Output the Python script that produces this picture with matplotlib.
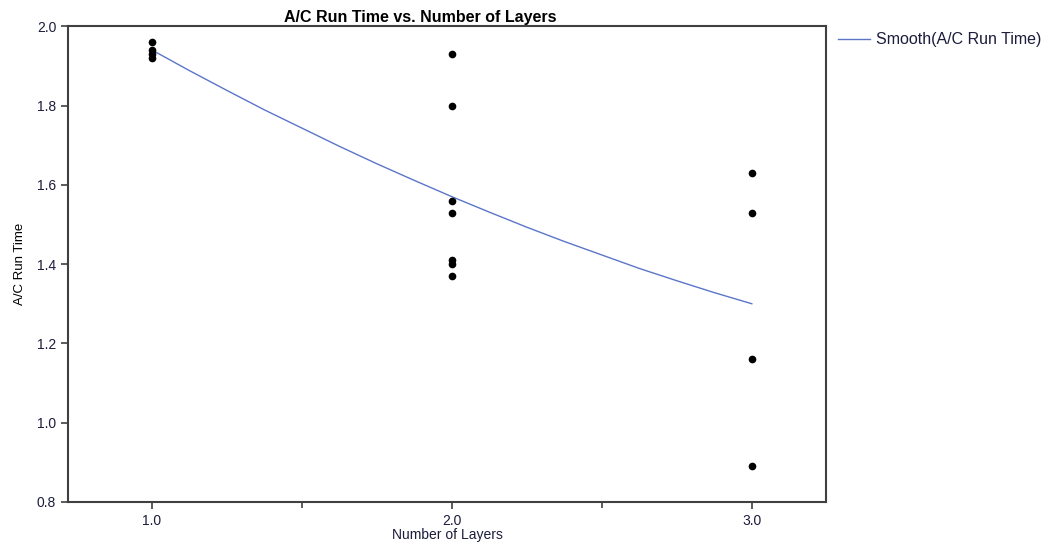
import matplotlib
matplotlib.use("Agg")
import matplotlib.pyplot as plt
from matplotlib.ticker import MultipleLocator, FormatStrFormatter

plt.rcParams["font.family"] = ["Liberation Sans", "DejaVu Sans"]

# ── Data ────────────────────────────────────────────────────────────────────
layers_1 = [1.0, 1.0, 1.0, 1.0]
runtime_1 = [1.96, 1.94, 1.93, 1.92]
layers_2 = [2.0, 2.0, 2.0, 2.0, 2.0, 2.0, 2.0]
runtime_2 = [1.93, 1.80, 1.56, 1.53, 1.41, 1.40, 1.37]
layers_3 = [3.0, 3.0, 3.0, 3.0]
runtime_3 = [1.63, 1.53, 1.16, 0.89]

# smoothed fit of run time
smooth_x = [1.0, 1.125, 1.25, 1.375, 1.5, 1.625, 1.75, 1.875, 2.0,
            2.125, 2.25, 2.375, 2.5, 2.625, 2.75, 2.875, 3.0]
smooth_y = [1.940, 1.888, 1.838, 1.789, 1.743, 1.697, 1.653, 1.611, 1.570,
            1.531, 1.493, 1.457, 1.423, 1.389, 1.358, 1.328, 1.300]

SPINE = "#404040"
TICKTXT = "#1c1c3c"
LINE = "#5b76c8"

# ── Figure ──────────────────────────────────────────────────────────────────
fig = plt.figure(figsize=(10.52, 5.46), dpi=100)
ax = fig.add_axes([0.0646, 0.0806, 0.7205, 0.8714])

xs = layers_1 + layers_2 + layers_3
ys = runtime_1 + runtime_2 + runtime_3
ax.plot(xs, ys, linestyle="none", marker="o", markersize=4.5,
        markerfacecolor="black", markeredgecolor="black", zorder=3)
line, = ax.plot(smooth_x, smooth_y, color=LINE, linewidth=1.0, zorder=2)

ax.set_xlim(0.72, 3.247)
ax.set_ylim(0.8, 2.0)
ax.xaxis.set_major_locator(MultipleLocator(1.0))
ax.xaxis.set_minor_locator(MultipleLocator(0.5))
ax.xaxis.set_major_formatter(FormatStrFormatter("%.1f"))
ax.yaxis.set_major_locator(MultipleLocator(0.2))
ax.yaxis.set_major_formatter(FormatStrFormatter("%.1f"))

for s in ax.spines.values():
    s.set_color(SPINE)
    s.set_linewidth(1.5)
ax.tick_params(which="both", direction="out", color=SPINE, width=1.2,
               labelsize=10, labelcolor=TICKTXT)
ax.tick_params(which="major", length=5)
ax.tick_params(which="minor", length=4)

ax.set_title("A/C Run Time vs. Number of Layers", fontsize=11.5,
             fontweight="bold", color="black", pad=3, x=0.465)
ax.set_xlabel("Number of Layers", fontsize=10, color=TICKTXT, labelpad=0)
ax.set_ylabel("A/C Run Time", fontsize=9.5, color="black", labelpad=8)

fig.legend([line], ["Smooth(A/C Run Time)"], loc="upper left",
           bbox_to_anchor=(0.783, 0.967), frameon=False, fontsize=11.5,
           handlelength=2.0, handletextpad=0.4, labelcolor=TICKTXT)

fig.savefig("out.png", dpi=100)
